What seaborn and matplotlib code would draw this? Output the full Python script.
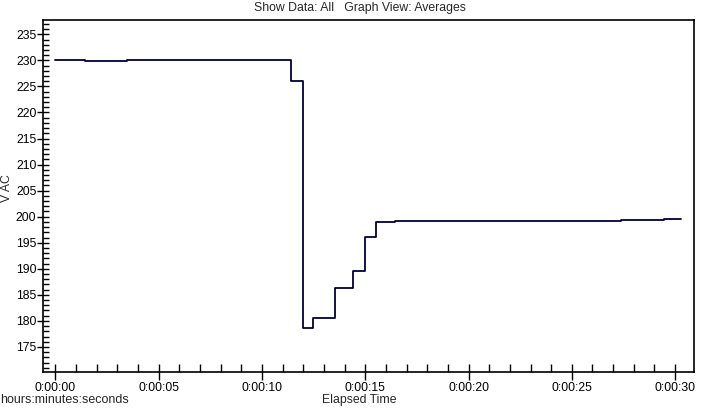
import numpy as np
import matplotlib
matplotlib.use("Agg")
import matplotlib.pyplot as plt
import seaborn as sns
import pandas as pd
from matplotlib.ticker import MultipleLocator, FuncFormatter

# elapsed seconds where each averaged value starts, and the value (V AC)
step_start = [0.0, 1.42, 3.47, 11.40, 11.98, 12.46, 13.53, 14.40, 14.98, 15.51, 16.43, 27.38, 29.48, 30.30]
vac = [230.0, 229.8, 230.0, 226.0, 178.6, 180.5, 186.3, 189.6, 196.1, 199.0, 199.2, 199.4, 199.6, 199.6]

df = pd.DataFrame({"t": step_start, "vac": vac})

sns.set_theme(style="white")
plt.rcParams["font.family"] = ["Liberation Sans", "DejaVu Sans"]
plt.rcParams["font.size"] = 8.8

fig = plt.figure(figsize=(7.19, 4.08), dpi=100)
ax = fig.add_axes([43.3 / 719, (408 - 371.7) / 408, (694.3 - 43.3) / 719, (371.7 - 20) / 408])

sns.lineplot(data=df, x="t", y="vac", ax=ax, drawstyle="steps-post",
             color="#00003a", linewidth=1.3, estimator=None)

ax.set_xlim(-0.59, 30.93)
ax.set_ylim(170.25, 237.75)

ax.xaxis.set_major_locator(MultipleLocator(5))
ax.xaxis.set_minor_locator(MultipleLocator(1))
ax.yaxis.set_minor_locator(MultipleLocator(1))
ax.set_yticks([175, 180, 185, 190, 195, 200, 205, 210, 215, 220, 225, 230, 235])


def hms(x, pos):
    s = int(round(x))
    return f"{s // 3600}:{(s % 3600) // 60:02d}:{s % 60:02d}"


ax.xaxis.set_major_formatter(FuncFormatter(hms))

ax.tick_params(axis="x", which="major", direction="inout", length=11.5, width=1, color="black", pad=2, labelsize=8.8, labelcolor="black")
ax.tick_params(axis="x", which="minor", direction="in", length=6, width=1, color="black")
ax.tick_params(axis="y", which="major", direction="inout", length=8, width=1, color="black", pad=1, labelsize=8.8, labelcolor="black")
ax.tick_params(axis="y", which="minor", direction="in", length=4.3, width=1, color="black")
ax.tick_params(bottom=True, left=True, which="both")

for sp in ax.spines.values():
    sp.set_color("black")
    sp.set_linewidth(1.2)

ax.set_xlabel("")
ax.set_ylabel("")

fig.text(0.5, 1 - 7.5 / 408, "Show Data: All   Graph View: Averages", ha="center", va="center", fontsize=8.8)
fig.text(0.5, 1 - 400 / 408, "Elapsed Time", ha="center", va="center", fontsize=8.8)
fig.text(0.0, 1 - 400 / 408, "hours:minutes:seconds", ha="left", va="center", fontsize=9)
fig.text(7 / 719, 1 - 188 / 408, "V AC", ha="center", va="center", rotation=90, fontsize=8.8)

fig.savefig("out.png", dpi=100)
